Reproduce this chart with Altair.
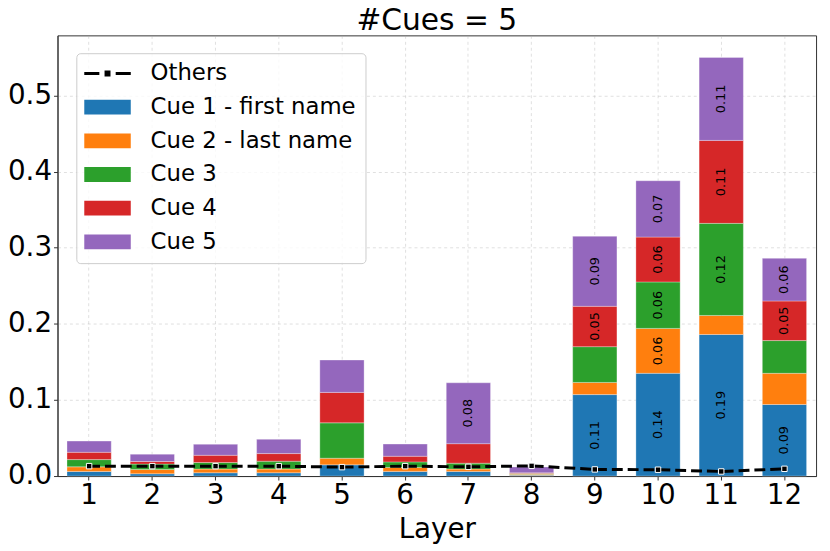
import altair as alt
import pandas as pd

layers = [1, 2, 3, 4, 5, 6, 7, 8, 9, 10, 11, 12]
cue_names = ["Cue 1 - first name", "Cue 2 - last name", "Cue 3", "Cue 4", "Cue 5"]
cue1 = [0.006, 0.003, 0.0043, 0.0043, 0.0147, 0.0061, 0.0061, 0.001, 0.107, 0.135, 0.186, 0.094]
cue2 = [0.0061, 0.0057, 0.0048, 0.0048, 0.0087, 0.0052, 0.003, 0.0012, 0.016, 0.059, 0.025, 0.041]
cue3 = [0.0095, 0.007, 0.0087, 0.0104, 0.0465, 0.0073, 0.0078, 0.001, 0.047, 0.061, 0.121, 0.043]
cue4 = [0.0096, 0.0034, 0.0095, 0.010, 0.040, 0.0074, 0.0256, 0.001, 0.053, 0.059, 0.109, 0.052]
cue5 = [0.0147, 0.0096, 0.0144, 0.0187, 0.0425, 0.016, 0.080, 0.0078, 0.092, 0.074, 0.109, 0.056]
others = [0.013, 0.013, 0.013, 0.013, 0.0117, 0.013, 0.0121, 0.0134, 0.0087, 0.0083, 0.006, 0.0095]

series_names = ["Others"] + cue_names
series_colors = ["#000000", "#1f77b4", "#ff7f0e", "#2ca02c", "#d62728", "#9467bd"]

rows = []
for i, vals in enumerate([cue1, cue2, cue3, cue4, cue5]):
    for L, v in zip(layers, vals):
        rows.append({"layer": L, "cue": cue_names[i], "order": i, "value": v})
bars_df = pd.DataFrame(rows)
others_df = pd.DataFrame({"layer": layers, "value": others})

FONT = "DejaVu Sans"

rect_path = "M-3.13,-1H3.13V1H-3.13Z"
line_path = "M-3.13,-0.2H-1.1V0.2H-3.13Z M-0.4,-0.4H0.4V0.4H-0.4Z M1.1,-0.2H3.13V0.2H1.1Z"
sym_expr = f"datum.value === 'Others' ? '{line_path}' : '{rect_path}'"

x_enc = alt.X("layer:O", title="Layer",
              scale=alt.Scale(paddingInner=0.3, paddingOuter=0.15),
              axis=alt.Axis(labelAngle=0))
y_scale = alt.Scale(domain=[0, 0.579], nice=False, zero=True)

color_scale = alt.Scale(domain=series_names, range=series_colors)
legend = alt.Legend(
    title=None, orient="none", legendX=19, legendY=18,
    symbolType=alt.ExprRef(sym_expr), symbolSize=225, symbolStrokeWidth=0,
    symbolOffset=11, labelOffset=32, labelLimit=400,
    labelFontSize=23, labelFont=FONT, labelColor="black",
    rowPadding=10, padding=9,
    fillColor="rgba(255,255,255,0.8)", strokeColor="#cccccc", cornerRadius=4,
    symbolOpacity=1,
)

base = alt.Chart(bars_df)
bars = base.mark_bar(stroke="white", strokeWidth=0.6, strokeOpacity=0.5).encode(
    x=x_enc,
    y=alt.Y("value:Q", stack="zero", scale=y_scale,
            axis=alt.Axis(values=[0, 0.1, 0.2, 0.3, 0.4, 0.5], format=".1f", title=None)),
    color=alt.Color("cue:N", scale=color_scale, legend=legend),
    order=alt.Order("order:Q"),
)

labels = base.transform_stack(
    stack="value", groupby=["layer"], as_=["y0", "y1"],
    sort=[alt.SortField("order", order="ascending")],
).transform_calculate(
    mid="(datum.y0 + datum.y1) / 2"
).transform_filter(
    "datum.value >= 0.05"
).mark_text(angle=270, fontSize=13, font=FONT, color="black", baseline="middle", align="center").encode(
    x=alt.X("layer:O"),
    y=alt.Y("mid:Q", scale=y_scale),
    text=alt.Text("value:Q", format=".2f"),
)

line = alt.Chart(others_df).mark_line(strokeWidth=3, strokeDash=[11, 5]).encode(
    x=alt.X("layer:O"),
    y=alt.Y("value:Q", scale=y_scale),
    color=alt.datum("Others"),
)

pts = alt.Chart(others_df).mark_point(shape="square", filled=True, fill="black",
                                       stroke="white", strokeWidth=1, size=30, opacity=1).encode(
    x=alt.X("layer:O"),
    y=alt.Y("value:Q", scale=y_scale),
)

chart = alt.layer(bars, labels, line, pts).properties(
    width=766, height=445,
    title=alt.TitleParams("#Cues = 5", fontSize=30, font=FONT, fontWeight="normal",
                          anchor="middle", offset=4, dy=5, color="black"),
    autosize=alt.AutoSizeParams(type="none"),
    padding={"left": 50, "top": 25, "right": 6, "bottom": 68},
    background="white",
).configure_view(
    stroke="#333333", strokeWidth=1
).configure_axis(
    labelFont=FONT, labelFontSize=28, labelColor="black",
    titleFont=FONT, titleFontSize=28, titleFontWeight="normal", titleColor="black",
    domainColor="#333333", tickColor="#333333", tickSize=4, labelPadding=2,
    grid=True, gridColor="#b0b0b0", gridOpacity=0.5, gridDash=[3, 3], gridWidth=0.8,
    zindex=1,
).configure_axisX(
    titlePadding=6,
)

chart.save("out.html", embed_options={"renderer": "svg", "actions": False})
